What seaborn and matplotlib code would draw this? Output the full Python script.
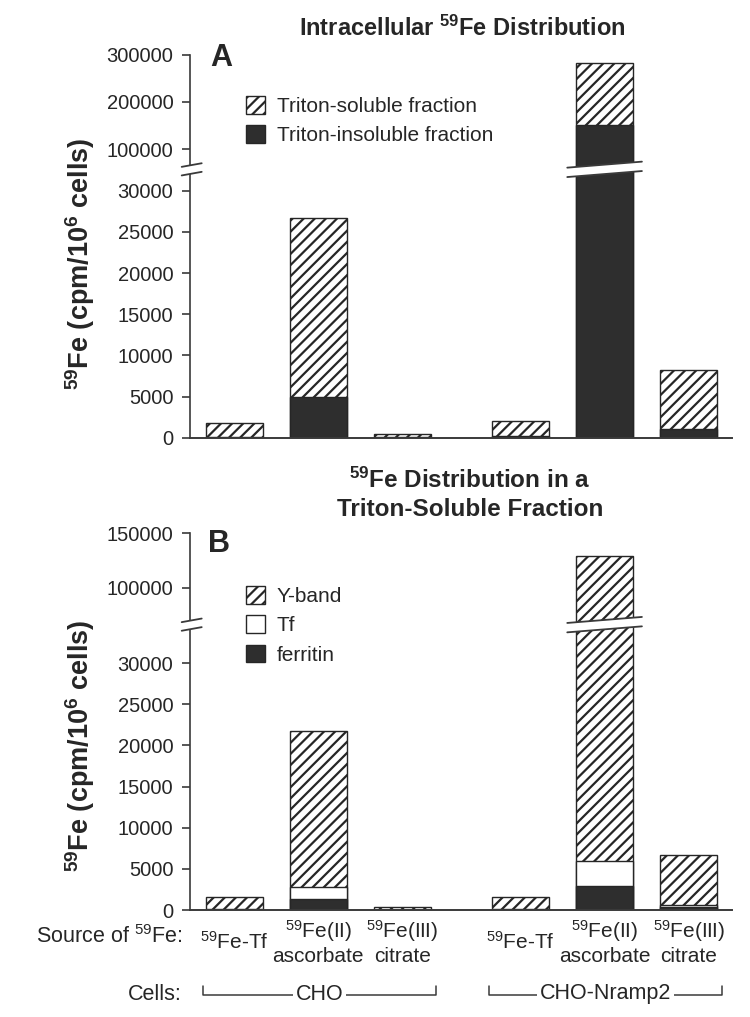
import numpy as np
import pandas as pd
import seaborn as sns
import matplotlib.pyplot as plt
from matplotlib.patches import Patch, Polygon
from matplotlib.lines import Line2D
from matplotlib import transforms

# ---- data ----
sources = ["$^{59}$Fe-Tf", "$^{59}$Fe(II)\nascorbate", "$^{59}$Fe(III)\ncitrate"] * 2
cells = ["CHO"] * 3 + ["CHO-Nramp2"] * 3

# panel A: intracellular 59Fe (cpm/10^6 cells)
insoluble = [100, 5000, 30, 150, 152000, 1060]
soluble = [1650, 21750, 380, 1880, 130000, 7140]

# panel B: Triton-soluble fraction split
ferritin = [60, 1330, 20, 60, 2900, 330]
tf = [80, 1490, 30, 120, 3030, 270]
yband = [1470, 18880, 350, 1360, 123070, 6100]

yticks_a_top = [100000, 200000, 300000]
yticks_b_top = [100000, 150000]
yticks_low = [0, 5000, 10000, 15000, 20000, 25000, 30000]

sns.set_style("ticks")
plt.rcParams["font.family"] = ["Liberation Sans", "DejaVu Sans"]
plt.rcParams["mathtext.fontset"] = "custom"
plt.rcParams["mathtext.rm"] = "Liberation Sans"
plt.rcParams["mathtext.bf"] = "Liberation Sans:bold"
plt.rcParams["mathtext.it"] = "Liberation Sans:italic"
plt.rcParams["hatch.linewidth"] = 1.6

W, H = 750, 1017
fig = plt.figure(figsize=(W / 100, H / 100), dpi=100)
pix = transforms.Affine2D().scale(1 / W, -1 / H).translate(0, 1) + fig.transFigure

df = pd.DataFrame({"source": sources, "cells": cells,
                   "insoluble": insoluble, "soluble": soluble,
                   "ferritin": ferritin, "tf": tf, "yband": yband})
df["x"] = np.arange(len(df)) + 0.4 * (df["cells"] == "CHO-Nramp2")
df["a_total"] = df["insoluble"] + df["soluble"]
df["b_tf"] = df["ferritin"] + df["tf"]
df["b_total"] = df["b_tf"] + df["yband"]

dark = "#2e2e2e"
edge = "#262626"
axcol = "#3a3a3a"
bw = 0.673


def make_ax(top_px, bot_px):
    return fig.add_axes([190 / W, 1 - bot_px / H, (731.7 - 190) / W, (bot_px - top_px) / H])


def bars(ax, layers):
    for col, fc, hatch in layers:
        sns.barplot(data=df, x="x", y=col, native_scale=True, width=bw, color=fc,
                    saturation=1, edgecolor=edge, linewidth=1.0, hatch=hatch,
                    errorbar=None, ax=ax)


def style(ax, top):
    ax.set_xlim(-0.525, 5.91)
    ax.set_xlabel("")
    ax.set_ylabel("")
    for s in ["top", "right"]:
        ax.spines[s].set_visible(False)
    ax.spines["left"].set_color(axcol)
    ax.spines["bottom"].set_color(axcol)
    ax.spines["left"].set_linewidth(1.2)
    ax.spines["bottom"].set_linewidth(1.4)
    ax.tick_params(axis="y", direction="out", length=6, width=1.2, color=axcol,
                   labelsize=14.5, pad=6)
    ax.tick_params(axis="x", length=0, labelbottom=False)
    if top:
        ax.spines["bottom"].set_visible(False)


def break_mark(x0, x1, ymid, hg, drop):
    up = [(x0, ymid - hg + drop / 2), (x1, ymid - hg - drop / 2)]
    lo = [(x0, ymid + hg + drop / 2), (x1, ymid + hg - drop / 2)]
    fig.add_artist(Polygon(up + lo[::-1], closed=True, facecolor="white",
                           edgecolor="none", transform=pix, zorder=5))
    for seg in (up, lo):
        fig.add_artist(Line2D([p[0] for p in seg], [p[1] for p in seg], color=axcol,
                              lw=1.3, transform=pix, zorder=6))


def bar_px(ax, i):
    xc = df["x"].iloc[i]
    left = ax.transData.transform((xc - bw / 2, 0))[0]
    right = ax.transData.transform((xc + bw / 2, 0))[0]
    return left, right


layers_a = [("a_total", "white", "///"), ("insoluble", dark, None)]
layers_b = [("b_total", "white", "///"), ("b_tf", "white", None), ("ferritin", dark, None)]

panels = [
    # top px, gap px, bottom px, upper lim, lower lim, upper ticks, layers
    (54.7, 167.7, 171.0, 437.7, (61000, 300000), (0, 32400), yticks_a_top, layers_a),
    (533.3, 623.3, 626.0, 910.0, (67300, 150000), (0, 34500), yticks_b_top, layers_b),
]

axes_low = []
for top_px, gap1, gap2, bot_px, ulim, llim, uticks, layers in panels:
    ax_u = make_ax(top_px, gap1)
    ax_l = make_ax(gap2, bot_px)
    for ax in (ax_u, ax_l):
        bars(ax, layers)
    ax_u.set_ylim(*ulim)
    ax_l.set_ylim(*llim)
    ax_u.set_yticks(uticks, [str(t) for t in uticks])
    ax_l.set_yticks(yticks_low, [str(t) for t in yticks_low])
    style(ax_u, True)
    style(ax_l, False)
    axes_low.append(ax_l)
    # break marks on axis and on the tall bar
    ymid = (gap1 + gap2) / 2
    break_mark(181.7, 201.7, ymid, 4.3, 3.6)
    i_tall = int(np.argmax(df[layers[0][0]]))
    l, r = bar_px(ax_l, i_tall)
    break_mark(l - 9, r + 9, ymid, 4.7, 6)

# titles and labels
fig.text(462 / W, 1 - 28 / H, r"Intracellular $^{\mathbf{59}}$Fe Distribution",
         ha="center", va="center", weight="bold", size=17)
fig.text(470 / W, 1 - 480 / H, r"$^{\mathbf{59}}$Fe Distribution in a",
         ha="center", va="center", weight="bold", size=17.5)
fig.text(470 / W, 1 - 510 / H, "Triton-Soluble Fraction",
         ha="center", va="center", weight="bold", size=17.5)
fig.text(210 / W, 1 - 58 / H, "A", ha="left", va="center", weight="bold", size=22)
fig.text(208 / W, 1 - 544 / H, "B", ha="left", va="center", weight="bold", size=22)
ylab = r"$^{\mathbf{59}}$Fe (cpm/10$^{\mathbf{6}}$ cells)"
fig.text(80 / W, 1 - 264 / H, ylab, rotation=90, ha="center", va="center",
         weight="bold", size=19.5)
fig.text(80 / W, 1 - 746 / H, ylab, rotation=90, ha="center", va="center",
         weight="bold", size=19.5)

# legends
leg_a = [Patch(facecolor="white", edgecolor=edge, hatch="///", label="Triton-soluble fraction"),
         Patch(facecolor=dark, edgecolor=edge, label="Triton-insoluble fraction")]
leg_b = [Patch(facecolor="white", edgecolor=edge, hatch="///", label="Y-band"),
         Patch(facecolor="white", edgecolor=edge, label="Tf"),
         Patch(facecolor=dark, edgecolor=edge, label="ferritin")]
for handles, ytop in ((leg_a, 96), (leg_b, 586)):
    fig.legend(handles=handles, loc="upper left", bbox_to_anchor=(246 / W, 1 - ytop / H),
               frameon=False, fontsize=15, handlelength=0.92, handleheight=0.92,
               handletextpad=0.55, labelspacing=0.45, borderpad=0, borderaxespad=0)

# category labels under panel B
ax_b = axes_low[1]
lab_tr = transforms.blended_transform_factory(ax_b.transData, pix)
for xc, s in zip(df["x"], df["source"]):
    ax_b.text(xc, 942, s, transform=lab_tr, ha="center", va="center",
              multialignment="center", size=15, clip_on=False)
fig.text(182 / W, 1 - 937 / H, r"Source of $^{59}$Fe:", ha="right", va="center",
         size=15.5)
fig.text(182 / W, 1 - 994 / H, "Cells:", ha="right", va="center", size=15.5)

for name, grp in df.groupby("cells", sort=False):
    x0 = grp["x"].min() - bw / 2 - 0.04
    x1 = grp["x"].max() + bw / 2 + 0.06
    ax_b.plot([x0, x0, x1, x1], [986, 995, 995, 986], color=axcol, lw=1.1,
              transform=lab_tr, clip_on=False)
    ax_b.text((x0 + x1) / 2, 994, name, transform=lab_tr, ha="center", va="center",
              size=15.5, clip_on=False,
              bbox=dict(facecolor="white", edgecolor="none", pad=2))

fig.savefig("out.png", dpi=100)
